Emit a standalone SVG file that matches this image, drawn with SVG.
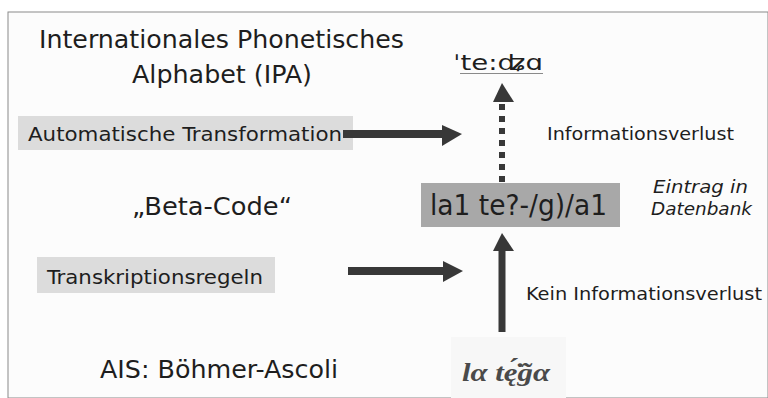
<svg xmlns="http://www.w3.org/2000/svg" width="768" height="398" viewBox="0 0 768 398">
<defs>
<style>
.t{font-family:"DejaVu Sans Condensed","DejaVu Sans",sans-serif;font-stretch:condensed;fill:#1e1e1e}
.big{font-size:25px}
.mid{font-size:19px}
.sm{font-size:18.5px}
.it{font-style:italic}
.arr{fill:#383838}
</style>
</defs>
<rect x="0" y="0" width="768" height="398" fill="#ffffff"/>
<rect x="8" y="12" width="760" height="386" fill="#fcfcfc" stroke="#8a8a8a" stroke-width="1"/>

<g id="ipa-title">
<text class="t big" x="39" y="48" textLength="365" lengthAdjust="spacingAndGlyphs">Internationales Phonetisches</text>
<text class="t big" x="132" y="83" textLength="180" lengthAdjust="spacingAndGlyphs">Alphabet (IPA)</text>
</g>
<g id="ipa-value">
<text class="t" style="font-size:22px" x="453" y="70" textLength="90" lengthAdjust="spacingAndGlyphs">ˈte:ʥɑ</text>
<line x1="460" y1="73.5" x2="543" y2="73.5" stroke="#8a8a8a" stroke-width="1"/>
</g>
<g id="auto-transformation">
<rect x="18" y="116" width="335" height="34" fill="#dcdcdc"/>
<text class="t mid" x="28" y="141" textLength="314" lengthAdjust="spacingAndGlyphs">Automatische Transformation</text>
</g>
<g id="info-loss">
<text class="t sm" x="547" y="140" textLength="187" lengthAdjust="spacingAndGlyphs">Informationsverlust</text>
</g>
<g id="beta-code">
<text class="t big" x="132" y="215" textLength="160" lengthAdjust="spacingAndGlyphs">„Beta-Code“</text>
</g>
<g id="db-entry">
<rect x="421" y="183" width="199" height="44" fill="#a8a8a8"/>
<text class="t" style="font-size:28px" x="430" y="215" textLength="177" lengthAdjust="spacingAndGlyphs">la1 te?-/g)/a1</text>
</g>
<g id="db-label">
<text class="t sm it" x="653" y="193" textLength="95" lengthAdjust="spacingAndGlyphs">Eintrag in</text>
<text class="t sm it" x="651" y="215" textLength="101" lengthAdjust="spacingAndGlyphs">Datenbank</text>
</g>
<g id="transkription">
<rect x="37" y="257" width="238" height="36" fill="#dcdcdc"/>
<text class="t mid" x="47" y="284" textLength="216" lengthAdjust="spacingAndGlyphs">Transkriptionsregeln</text>
</g>
<g id="no-info-loss">
<text class="t sm" x="526" y="300" textLength="236" lengthAdjust="spacingAndGlyphs">Kein Informationsverlust</text>
</g>
<g id="ais">
<text class="t big" x="100" y="378" textLength="238" lengthAdjust="spacingAndGlyphs">AIS: Böhmer-Ascoli</text>
</g>
<g id="ais-sample">
<rect x="451" y="337" width="115" height="61" fill="#f7f7f7"/>
<text x="462" y="381" style="font-family:'Liberation Serif',serif;font-size:26px;font-style:italic;font-weight:bold;fill:#4a4a4a" textLength="88" lengthAdjust="spacingAndGlyphs">lα tę̇́g̃α</text>
</g>

<g id="connectors">
<rect class="arr" x="343" y="130" width="101" height="8"/>
<polygon class="arr" points="442,125 462,134 442,146"/>
<rect class="arr" x="348" y="267" width="97" height="8"/>
<polygon class="arr" points="443,261 463,271 443,282"/>
<line x1="502" y1="182" x2="502" y2="104" stroke="#383838" stroke-width="6" stroke-dasharray="6 6"/>
<polygon class="arr" points="493,102 502,83 514,102"/>
<rect class="arr" x="498.5" y="250" width="7" height="82"/>
<polygon class="arr" points="493,251 502,233 514,251"/>
</g>
</svg>
